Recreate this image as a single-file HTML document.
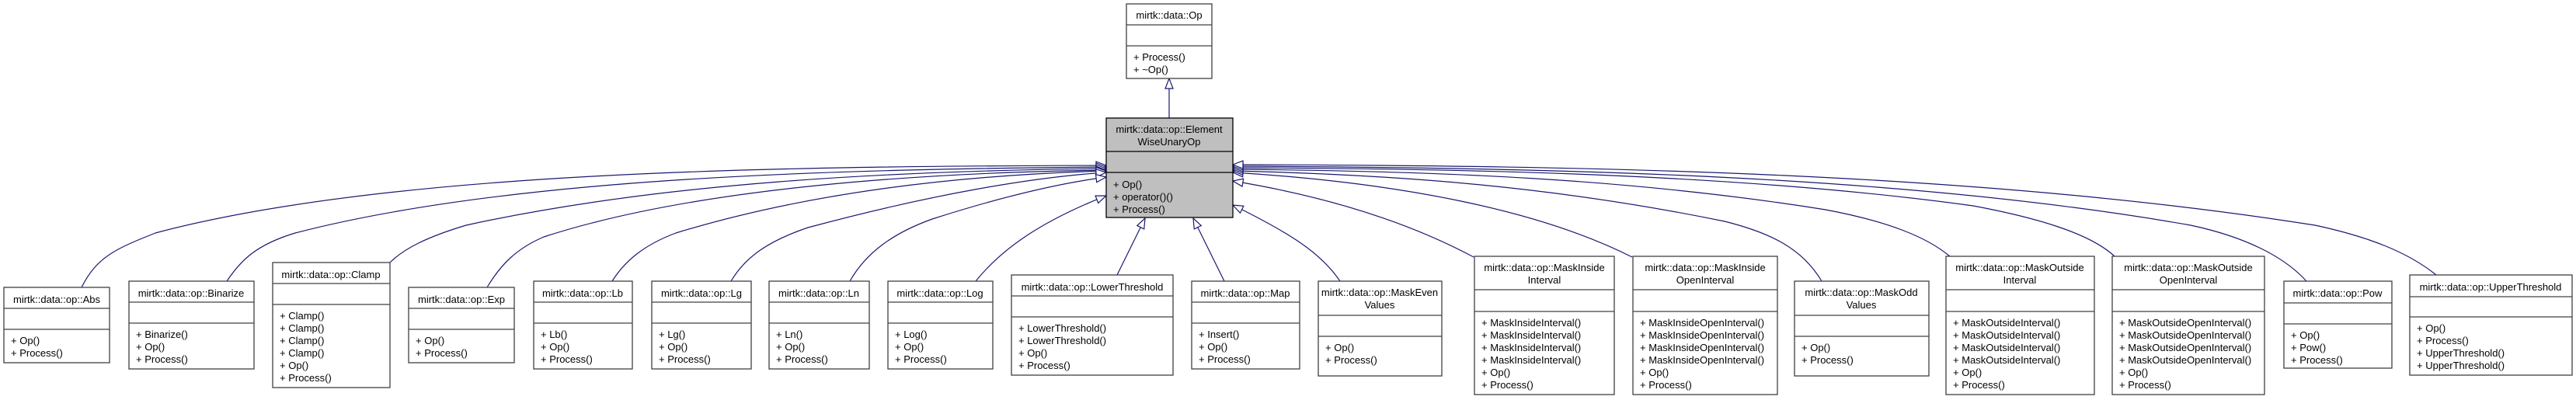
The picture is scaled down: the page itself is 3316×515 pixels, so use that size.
<!DOCTYPE html>
<html><head><meta charset="utf-8"><style>
html,body{margin:0;padding:0;background:#fff;}
svg{display:block;}
text{font-family:"Liberation Sans",Arial,sans-serif;font-size:13px;fill:#000;}
.b{fill:#fff;stroke:#404040;stroke-width:1.3;}
.g{fill:#bfbfbf;stroke:#000;stroke-width:1.3;}
.d{stroke:#404040;stroke-width:1.3;}
.e{fill:none;stroke:#191970;stroke-width:1.2;}
</style></head><body>
<svg width="3316" height="515" viewBox="0 0 3316 515" xmlns="http://www.w3.org/2000/svg">
<defs>
<marker id="a" markerUnits="userSpaceOnUse" markerWidth="16" markerHeight="12" refX="14" refY="6" orient="auto">
<path d="M1,1 L14,6 L1,11 Z" fill="#fff" stroke="#191970" stroke-width="1.2"/>
</marker>
</defs>

<!-- edges -->
<path class="e" marker-end="url(#a)" d="M1505,152 L1505,101"/>
<path class="e" marker-end="url(#a)" d="M105,370 C125,330 150,320 200,300 C500,220 1000,214 1424,213"/>
<path class="e" marker-end="url(#a)" d="M292,362 C310,335 330,315 380,300 C650,230 1050,218 1424,215"/>
<path class="e" marker-end="url(#a)" d="M502,338 C520,320 550,305 600,290 C850,235 1150,220 1424,217"/>
<path class="e" marker-end="url(#a)" d="M627,370 C645,340 665,320 700,305 C900,240 1200,222 1424,219"/>
<path class="e" marker-end="url(#a)" d="M788,362 C805,335 830,315 870,300 C1050,245 1250,225 1424,220"/>
<path class="e" marker-end="url(#a)" d="M941,362 C960,330 990,310 1040,293 C1200,250 1330,228 1424,222"/>
<path class="e" marker-end="url(#a)" d="M1094,362 C1115,325 1150,300 1200,282 C1300,250 1370,235 1424,228"/>
<path class="e" marker-end="url(#a)" d="M1256,362 C1290,320 1340,285 1424,252"/>
<path class="e" marker-end="url(#a)" d="M1438,354 L1474,281"/>
<path class="e" marker-end="url(#a)" d="M1576,362 L1536,281"/>
<path class="e" marker-end="url(#a)" d="M1725,362 C1700,325 1660,300 1587,264"/>
<path class="e" marker-end="url(#a)" d="M1897,331 C1820,290 1720,255 1587,233"/>
<path class="e" marker-end="url(#a)" d="M2101,331 C1980,270 1800,235 1587,222"/>
<path class="e" marker-end="url(#a)" d="M2345,362 C2320,320 2280,300 2220,285 C2000,240 1800,225 1587,220"/>
<path class="e" marker-end="url(#a)" d="M2510,330 C2480,305 2430,285 2350,270 C2100,230 1850,220 1587,218"/>
<path class="e" marker-end="url(#a)" d="M2722,330 C2690,300 2620,280 2540,265 C2250,225 1900,217 1587,216"/>
<path class="e" marker-end="url(#a)" d="M2969,362 C2940,330 2890,305 2820,290 C2450,225 2000,216 1587,214"/>
<path class="e" marker-end="url(#a)" d="M3136,354 C3100,325 3050,305 2980,290 C2550,222 2050,213 1587,212"/>

<!-- Op -->
<rect class="b" x="1450" y="5" width="110" height="96"/>
<line class="d" x1="1450" y1="32" x2="1560" y2="32"/><line class="d" x1="1450" y1="59" x2="1560" y2="59"/>
<text x="1505" y="24" text-anchor="middle">mirtk::data::Op</text>
<text x="1459" y="78">+ Process()</text><text x="1459" y="94">+ ~Op()</text>

<!-- ElementWiseUnaryOp -->
<rect class="g" x="1424" y="152" width="163" height="128"/>
<line class="d" x1="1424" y1="195" x2="1587" y2="195" style="stroke:#000"/><line class="d" x1="1424" y1="222" x2="1587" y2="222" style="stroke:#000"/>
<text x="1505" y="171" text-anchor="middle">mirtk::data::op::Element</text>
<text x="1505" y="187" text-anchor="middle">WiseUnaryOp</text>
<text x="1433" y="242">+ Op()</text><text x="1433" y="258">+ operator()()</text><text x="1433" y="274">+ Process()</text>

<!-- Abs -->
<rect class="b" x="5" y="370" width="136" height="97"/>
<line class="d" x1="5" y1="397" x2="141" y2="397"/><line class="d" x1="5" y1="424" x2="141" y2="424"/>
<text x="73" y="390" text-anchor="middle">mirtk::data::op::Abs</text>
<text x="14" y="443">+ Op()</text><text x="14" y="459">+ Process()</text>

<!-- Binarize -->
<rect class="b" x="166" y="362" width="161" height="113"/>
<line class="d" x1="166" y1="389" x2="327" y2="389"/><line class="d" x1="166" y1="416" x2="327" y2="416"/>
<text x="246" y="382" text-anchor="middle">mirtk::data::op::Binarize</text>
<text x="175" y="435">+ Binarize()</text><text x="175" y="451">+ Op()</text><text x="175" y="467">+ Process()</text>

<!-- Clamp -->
<rect class="b" x="351" y="338" width="151" height="161"/>
<line class="d" x1="351" y1="365" x2="502" y2="365"/><line class="d" x1="351" y1="392" x2="502" y2="392"/>
<text x="426" y="358" text-anchor="middle">mirtk::data::op::Clamp</text>
<text x="360" y="411">+ Clamp()</text><text x="360" y="427">+ Clamp()</text><text x="360" y="443">+ Clamp()</text><text x="360" y="459">+ Clamp()</text><text x="360" y="475">+ Op()</text><text x="360" y="491">+ Process()</text>

<!-- Exp -->
<rect class="b" x="526" y="370" width="136" height="97"/>
<line class="d" x1="526" y1="397" x2="662" y2="397"/><line class="d" x1="526" y1="424" x2="662" y2="424"/>
<text x="594" y="390" text-anchor="middle">mirtk::data::op::Exp</text>
<text x="535" y="443">+ Op()</text><text x="535" y="459">+ Process()</text>

<!-- Lb -->
<rect class="b" x="687" y="362" width="127" height="113"/>
<line class="d" x1="687" y1="389" x2="814" y2="389"/><line class="d" x1="687" y1="416" x2="814" y2="416"/>
<text x="750" y="382" text-anchor="middle">mirtk::data::op::Lb</text>
<text x="696" y="435">+ Lb()</text><text x="696" y="451">+ Op()</text><text x="696" y="467">+ Process()</text>

<!-- Lg -->
<rect class="b" x="839" y="362" width="128" height="113"/>
<line class="d" x1="839" y1="389" x2="967" y2="389"/><line class="d" x1="839" y1="416" x2="967" y2="416"/>
<text x="903" y="382" text-anchor="middle">mirtk::data::op::Lg</text>
<text x="848" y="435">+ Lg()</text><text x="848" y="451">+ Op()</text><text x="848" y="467">+ Process()</text>

<!-- Ln -->
<rect class="b" x="990" y="362" width="129" height="113"/>
<line class="d" x1="990" y1="389" x2="1119" y2="389"/><line class="d" x1="990" y1="416" x2="1119" y2="416"/>
<text x="1054" y="382" text-anchor="middle">mirtk::data::op::Ln</text>
<text x="999" y="435">+ Ln()</text><text x="999" y="451">+ Op()</text><text x="999" y="467">+ Process()</text>

<!-- Log -->
<rect class="b" x="1143" y="362" width="135" height="113"/>
<line class="d" x1="1143" y1="389" x2="1278" y2="389"/><line class="d" x1="1143" y1="416" x2="1278" y2="416"/>
<text x="1210" y="382" text-anchor="middle">mirtk::data::op::Log</text>
<text x="1152" y="435">+ Log()</text><text x="1152" y="451">+ Op()</text><text x="1152" y="467">+ Process()</text>

<!-- LowerThreshold -->
<rect class="b" x="1302" y="354" width="208" height="129"/>
<line class="d" x1="1302" y1="381" x2="1510" y2="381"/><line class="d" x1="1302" y1="408" x2="1510" y2="408"/>
<text x="1406" y="374" text-anchor="middle">mirtk::data::op::LowerThreshold</text>
<text x="1311" y="427">+ LowerThreshold()</text><text x="1311" y="443">+ LowerThreshold()</text><text x="1311" y="459">+ Op()</text><text x="1311" y="475">+ Process()</text>

<!-- Map -->
<rect class="b" x="1534" y="362" width="139" height="113"/>
<line class="d" x1="1534" y1="389" x2="1673" y2="389"/><line class="d" x1="1534" y1="416" x2="1673" y2="416"/>
<text x="1603" y="382" text-anchor="middle">mirtk::data::op::Map</text>
<text x="1543" y="435">+ Insert()</text><text x="1543" y="451">+ Op()</text><text x="1543" y="467">+ Process()</text>

<!-- MaskEvenValues -->
<rect class="b" x="1697" y="362" width="159" height="122"/>
<line class="d" x1="1697" y1="406" x2="1856" y2="406"/><line class="d" x1="1697" y1="433" x2="1856" y2="433"/>
<text x="1776" y="381" text-anchor="middle">mirtk::data::op::MaskEven</text>
<text x="1776" y="397" text-anchor="middle">Values</text>
<text x="1706" y="452">+ Op()</text><text x="1706" y="468">+ Process()</text>

<!-- MaskInsideInterval -->
<rect class="b" x="1898" y="330" width="180" height="178"/>
<line class="d" x1="1898" y1="373" x2="2078" y2="373"/><line class="d" x1="1898" y1="401" x2="2078" y2="401"/>
<text x="1988" y="349" text-anchor="middle">mirtk::data::op::MaskInside</text>
<text x="1988" y="365" text-anchor="middle">Interval</text>
<text x="1907" y="420">+ MaskInsideInterval()</text><text x="1907" y="436">+ MaskInsideInterval()</text><text x="1907" y="452">+ MaskInsideInterval()</text><text x="1907" y="468">+ MaskInsideInterval()</text><text x="1907" y="484">+ Op()</text><text x="1907" y="500">+ Process()</text>

<!-- MaskInsideOpenInterval -->
<rect class="b" x="2102" y="330" width="186" height="178"/>
<line class="d" x1="2102" y1="373" x2="2288" y2="373"/><line class="d" x1="2102" y1="401" x2="2288" y2="401"/>
<text x="2195" y="349" text-anchor="middle">mirtk::data::op::MaskInside</text>
<text x="2195" y="365" text-anchor="middle">OpenInterval</text>
<text x="2111" y="420">+ MaskInsideOpenInterval()</text><text x="2111" y="436">+ MaskInsideOpenInterval()</text><text x="2111" y="452">+ MaskInsideOpenInterval()</text><text x="2111" y="468">+ MaskInsideOpenInterval()</text><text x="2111" y="484">+ Op()</text><text x="2111" y="500">+ Process()</text>

<!-- MaskOddValues -->
<rect class="b" x="2310" y="362" width="173" height="122"/>
<line class="d" x1="2310" y1="406" x2="2483" y2="406"/><line class="d" x1="2310" y1="433" x2="2483" y2="433"/>
<text x="2396" y="381" text-anchor="middle">mirtk::data::op::MaskOdd</text>
<text x="2396" y="397" text-anchor="middle">Values</text>
<text x="2319" y="452">+ Op()</text><text x="2319" y="468">+ Process()</text>

<!-- MaskOutsideInterval -->
<rect class="b" x="2505" y="330" width="191" height="178"/>
<line class="d" x1="2505" y1="373" x2="2696" y2="373"/><line class="d" x1="2505" y1="401" x2="2696" y2="401"/>
<text x="2600" y="349" text-anchor="middle">mirtk::data::op::MaskOutside</text>
<text x="2600" y="365" text-anchor="middle">Interval</text>
<text x="2514" y="420">+ MaskOutsideInterval()</text><text x="2514" y="436">+ MaskOutsideInterval()</text><text x="2514" y="452">+ MaskOutsideInterval()</text><text x="2514" y="468">+ MaskOutsideInterval()</text><text x="2514" y="484">+ Op()</text><text x="2514" y="500">+ Process()</text>

<!-- MaskOutsideOpenInterval -->
<rect class="b" x="2719" y="330" width="196" height="178"/>
<line class="d" x1="2719" y1="373" x2="2915" y2="373"/><line class="d" x1="2719" y1="401" x2="2915" y2="401"/>
<text x="2817" y="349" text-anchor="middle">mirtk::data::op::MaskOutside</text>
<text x="2817" y="365" text-anchor="middle">OpenInterval</text>
<text x="2728" y="420">+ MaskOutsideOpenInterval()</text><text x="2728" y="436">+ MaskOutsideOpenInterval()</text><text x="2728" y="452">+ MaskOutsideOpenInterval()</text><text x="2728" y="468">+ MaskOutsideOpenInterval()</text><text x="2728" y="484">+ Op()</text><text x="2728" y="500">+ Process()</text>

<!-- Pow -->
<rect class="b" x="2940" y="362" width="139" height="112"/>
<line class="d" x1="2940" y1="390" x2="3079" y2="390"/><line class="d" x1="2940" y1="417" x2="3079" y2="417"/>
<text x="3009" y="382" text-anchor="middle">mirtk::data::op::Pow</text>
<text x="2949" y="436">+ Op()</text><text x="2949" y="452">+ Pow()</text><text x="2949" y="468">+ Process()</text>

<!-- UpperThreshold -->
<rect class="b" x="3102" y="354" width="209" height="129"/>
<line class="d" x1="3102" y1="382" x2="3311" y2="382"/><line class="d" x1="3102" y1="408" x2="3311" y2="408"/>
<text x="3206" y="374" text-anchor="middle">mirtk::data::op::UpperThreshold</text>
<text x="3111" y="427">+ Op()</text><text x="3111" y="443">+ Process()</text><text x="3111" y="459">+ UpperThreshold()</text><text x="3111" y="475">+ UpperThreshold()</text>
</svg>
</body></html>
